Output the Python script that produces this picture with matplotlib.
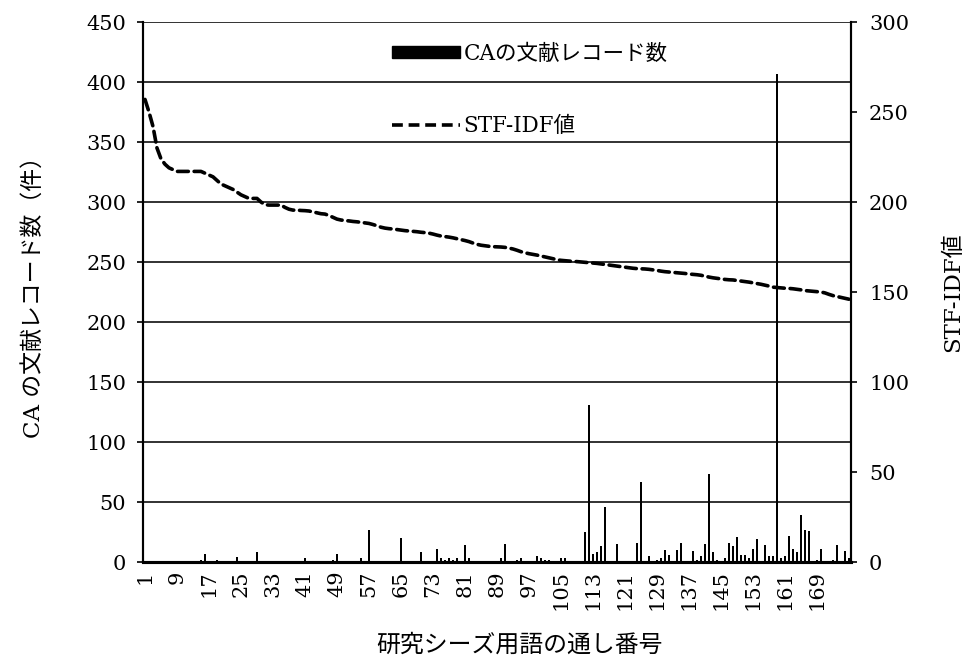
import matplotlib
matplotlib.use("Agg")
import matplotlib.pyplot as plt
from matplotlib.patches import Patch
from matplotlib.lines import Line2D

plt.rcParams['font.family'] = ['DejaVu Serif', 'Noto Sans CJK JP', 'DejaVu Sans']

n_terms = 177
categories = list(range(1, n_terms + 1))

# CA record counts (sparse reading: category -> count), zeros elsewhere
record_idx = [2, 14, 15, 16, 18, 19, 21, 23, 24, 29, 33, 34, 35, 36, 40, 41, 42, 48, 49,
              53, 54, 55, 57, 63, 64, 65, 70, 73, 74, 75, 76, 77, 78, 79, 81, 82, 83, 85,
              88, 89, 90, 91, 94, 95, 96, 97, 98, 99, 100, 101, 102, 105, 106, 108,
              111, 112, 113, 114, 115, 116, 119, 121, 122, 124, 125, 126, 127, 128, 129,
              130, 131, 132, 133, 134, 135, 138, 139, 140, 141, 142, 143, 144, 145, 146,
              147, 148, 149, 150, 151, 152, 153, 154, 155, 156, 157, 158, 159, 160, 161,
              162, 163, 164, 165, 166, 167, 169, 170, 171, 172, 173, 174, 176, 177]
record_val = [1, 1, 2, 7, 1, 2, 1, 1, 4, 8, 1, 1, 1, 1, 1, 3, 1, 2, 7,
              1, 1, 3, 27, 1, 1, 20, 8, 1, 11, 3, 2, 3, 2, 3, 14, 3, 1, 1,
              1, 1, 3, 15, 2, 3, 1, 1, 1, 5, 3, 2, 2, 3, 3, 1,
              25, 131, 7, 8, 13, 46, 15, 1, 1, 16, 67, 1, 5, 1, 2,
              3, 10, 6, 1, 10, 16, 9, 2, 5, 15, 73, 8, 2, 1, 3,
              16, 13, 21, 6, 6, 3, 11, 19, 1, 14, 5, 5, 407, 3, 5,
              22, 11, 8, 39, 27, 26, 2, 11, 1, 1, 2, 14, 9, 3]

records = [0] * n_terms
for i, v in zip(record_idx, record_val):
    records[i - 1] = v

stf_idf = [257, 250, 242, 230, 224, 221, 219, 218, 217, 217, 217, 217, 217, 217, 217, 216,
           215, 214, 212, 210, 209, 208, 207, 205.5, 204, 203, 202, 202, 202, 200, 198.5,
           198.3, 198.3, 198.3, 198.3, 197, 196, 195.5, 195.5, 195.3, 195.2, 195, 194.5, 194,
           193.5, 193.3, 192.5, 191.5, 190.5, 190, 189.7, 189.5, 189.2, 189, 188.7, 188.4,
           188.1, 187.5, 186.8, 186, 185.5, 185.2, 185, 184.7, 184.4, 184.1, 183.9, 183.7,
           183.5, 183.2, 183, 182.7, 182.2, 181.6, 181.1, 180.8, 180.5, 180.1, 179.6, 179.1,
           178.6, 178, 177.2, 176.5, 176, 175.7, 175.4, 175.2, 175.1, 175, 174.8, 174.4,
           173.9, 173.2, 172.4, 171.8, 171.3, 170.9, 170.5, 170, 169.5, 169, 168.5, 167.9,
           167.6, 167.4, 167.2, 167, 166.9, 166.7, 166.5, 166.3, 166.1, 165.9, 165.6, 165.3,
           165, 164.7, 164.4, 164.1, 163.8, 163.5, 163.2, 163, 162.9, 162.8, 162.6, 162.3,
           162, 161.6, 161.3, 161.1, 160.9, 160.7, 160.5, 160.3, 160, 159.8, 159.6, 159.3,
           158.8, 158.3, 157.9, 157.6, 157.3, 157, 156.8, 156.7, 156.4, 156.1, 155.8, 155.5,
           155.1, 154.7, 154.3, 153.8, 153.3, 152.7, 152.5, 152.3, 152.1, 152, 151.8, 151.5,
           151.2, 150.8, 150.6, 150.4, 150.2, 150, 149.5, 148.7, 148, 147.5, 147, 146.5, 146]

xtick_labels = list(range(1, 170, 8))
left_ticks = list(range(0, 451, 50))
right_ticks = list(range(0, 301, 50))

fig = plt.figure(figsize=(9.7, 6.63), dpi=100)
ax = fig.add_axes([0.1474, 0.1523, 0.7299, 0.8145])
ax2 = ax.twinx()

ax.set_axisbelow(True)
ax.yaxis.grid(True, color='#222222', linewidth=1.3)
ax.bar(categories, records, width=0.65, color='black', zorder=3)
ax.set_ylim(0, 450)
ax.set_xlim(0.5, n_terms + 0.5)
ax.set_yticks(left_ticks)
ax.set_xticks(xtick_labels)
ax.set_xticklabels([str(t) for t in xtick_labels], rotation=90, fontsize=15)
ax.tick_params(axis='y', labelsize=15, length=4, width=1.2, direction='out', pad=8)
ax.tick_params(axis='x', length=0, pad=6)

dash = (0, (3.0, 1.6))
ax2.plot(categories, stf_idf, color='black', linewidth=2.6,
         linestyle=dash, dash_capstyle='round', zorder=4)
ax2.set_ylim(0, 300)
ax2.set_yticks(right_ticks)
ax2.tick_params(axis='y', labelsize=15, length=4, width=1.2, direction='out', pad=9)

for a in (ax, ax2):
    a.spines['top'].set_visible(False)
    a.spines['left'].set_linewidth(1.5)
    a.spines['right'].set_linewidth(1.5)
    a.spines['bottom'].set_linewidth(2.2)

ax.set_ylabel('CA の文献レコード数（件）', fontsize=16.5, labelpad=30)
ax2.set_ylabel('STF-IDF値', fontsize=16.5, labelpad=24)
ax.set_xlabel('研究シーズ用語の通し番号', fontsize=17.2)
ax.xaxis.set_label_coords(0.532, -0.133)

handles = [Patch(facecolor='black', edgecolor='black'),
           Line2D([0], [0], color='black', linewidth=2.6, linestyle=dash)]
leg = ax2.legend(handles, ['CAの文献レコード数', 'STF-IDF値'],
                 loc='upper left', bbox_to_anchor=(0.352, 0.961), frameon=False,
                 fontsize=15.5, handlelength=3.16, handletextpad=0.15, labelspacing=2.33,
                 handleheight=0.47, borderpad=0, borderaxespad=0)

fig.savefig('out.png', dpi=100)
